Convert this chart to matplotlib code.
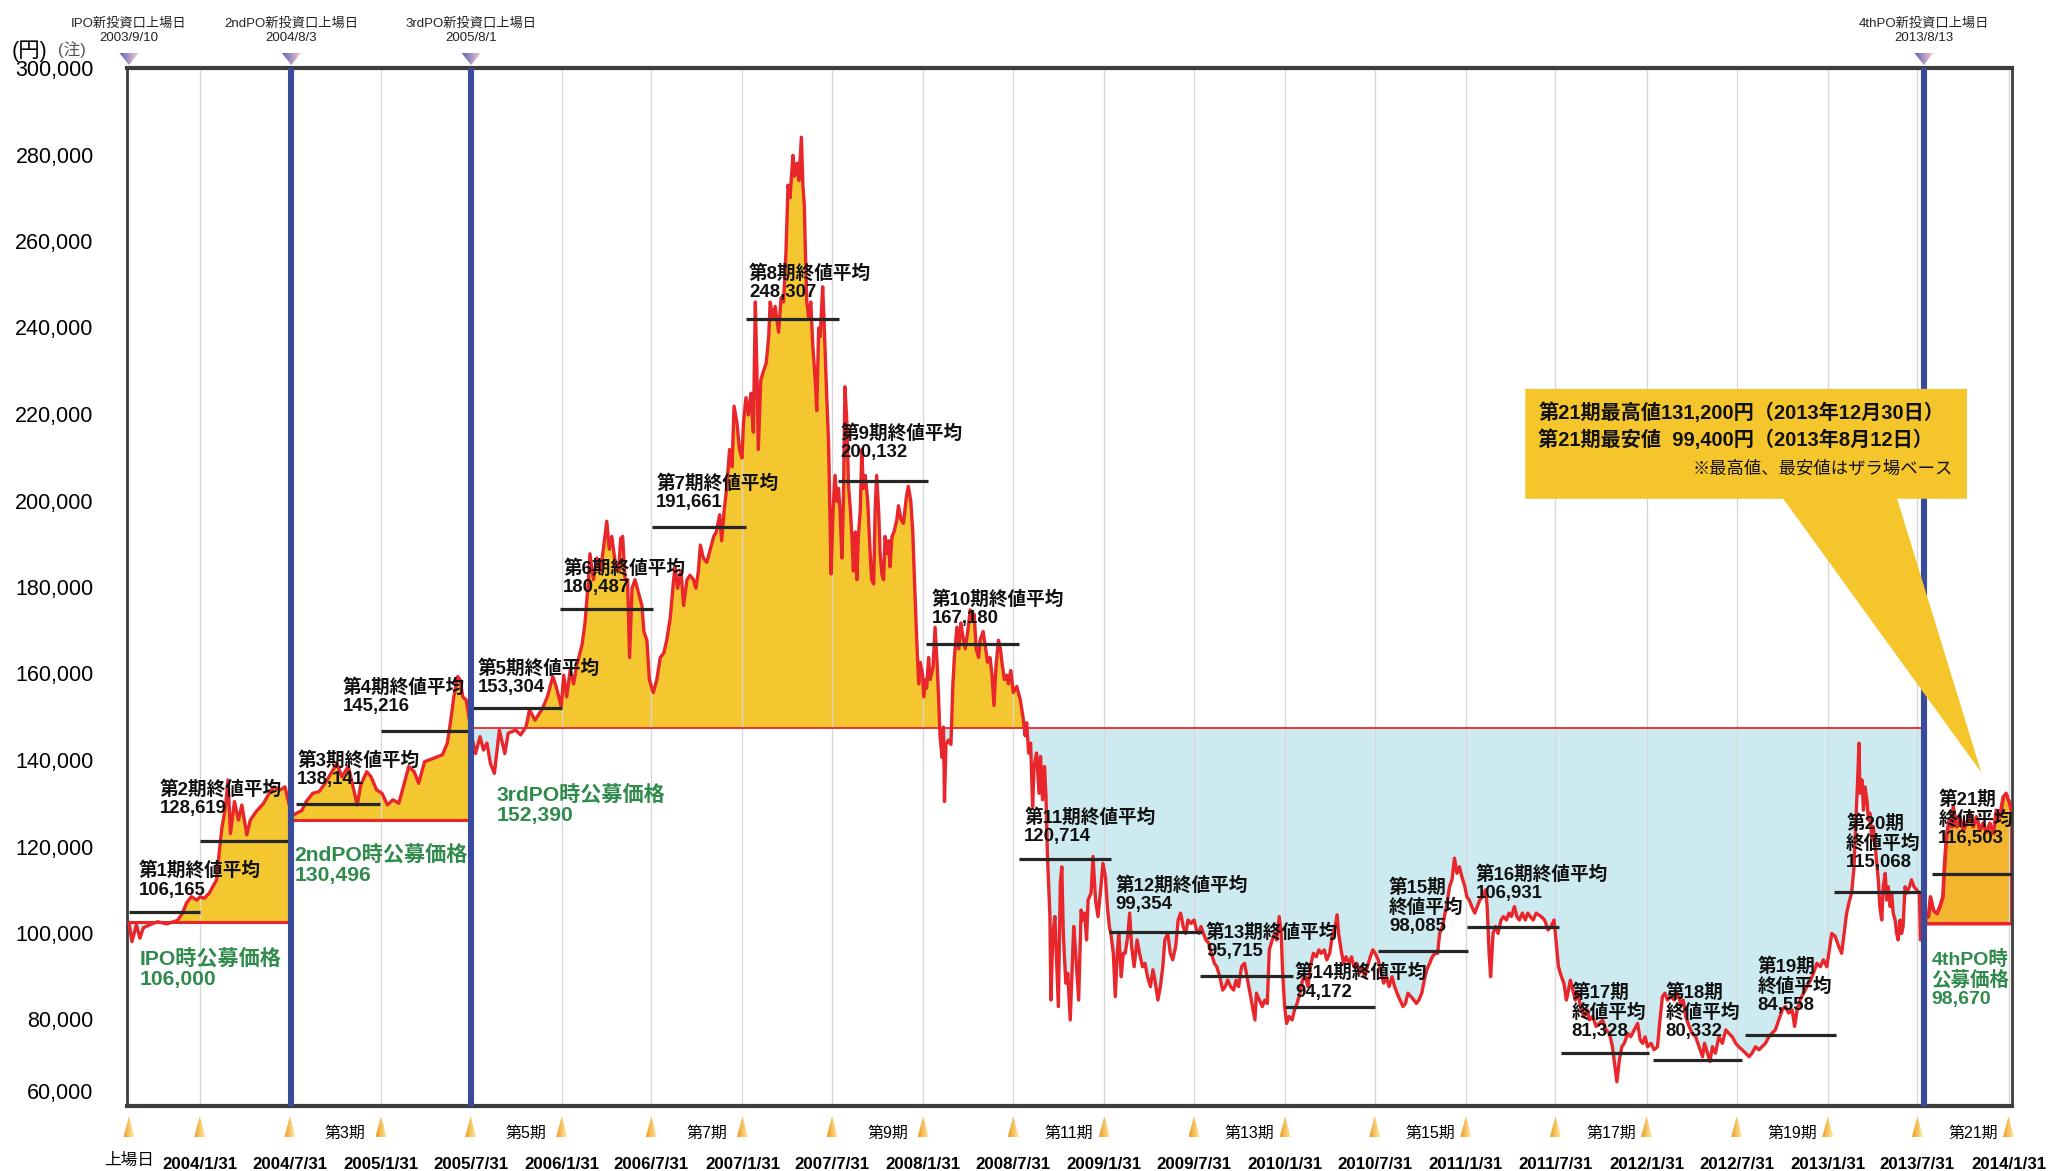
import numpy as np
import pandas as pd
import matplotlib
matplotlib.use("Agg")
import matplotlib.pyplot as plt
import matplotlib.transforms as mtransforms
from matplotlib.colors import LinearSegmentedColormap
from matplotlib.patches import Polygon

plt.rcParams['font.family'] = ['Liberation Sans', 'Noto Sans CJK JP', 'DejaVu Sans']

W, H = 2053, 1171

listing = pd.Timestamp("2003-09-10")

# offerings: name, listing date of new units, offer price (label) and the level drawn (thousand yen)
po_names = ["IPO", "2ndPO", "3rdPO", "4thPO"]
po_dates = ["2003-09-10", "2004-08-03", "2005-08-01", "2013-08-13"]
po_price = [106000, 130496, 152390, 98670]
po_line_k = [102.5, 126.1, 147.4, 102.2]

# fiscal period ends (half years)
period_ends = ["2004-01-31", "2004-07-31", "2005-01-31", "2005-07-31", "2006-01-31",
               "2006-07-31", "2007-01-31", "2007-07-31", "2008-01-31", "2008-07-31",
               "2009-01-31", "2009-07-31", "2010-01-31", "2010-07-31", "2011-01-31",
               "2011-07-31", "2012-01-31", "2012-07-31", "2013-01-31", "2013-07-31",
               "2014-01-31"]

# period closing price averages (label) and the level of the drawn bar (thousand yen)
avg_value = [106165, 128619, 138141, 145216, 153304, 180487, 191661, 248307, 200132, 167180,
             120714, 99354, 95715, 94172, 98085, 106931, 81328, 80332, 84558, 115068, 116503]
avg_line_k = [104.9, 121.3, 129.8, 146.7, 152.0, 174.9, 193.9, 241.9, 204.4, 166.8,
              117.0, 100.3, 90.1, 82.8, 95.9, 101.5, 72.3, 70.6, 76.4, 109.4, 113.6]
avg_span = [(0, 143), (143, 324), (338, 507), (509, 684), (692, 874), (871, 1059),
            (1056, 1246), (1246, 1434), (1432, 1613), (1610, 1797), (1797, 1983),
            (1979, 2168), (2164, 2350), (2334, 2517), (2522, 2705), (2702, 2889),
            (2892, 3070), (3077, 3258), (3263, 3447), (3444, 3627), (3642, 3803)]
stacked_periods = [15, 17, 18, 19, 20, 21]

# closing price: (days since listing, thousand yen), read per period
p01 = [(0, 102.4), (6, 98.0), (15, 101.9), (22, 98.8), (29, 101.2), (44, 102.0), (58, 102.6),
       (76, 102.1), (87, 102.5), (98, 102.9), (108, 104.6), (116, 106.9), (126, 108.4),
       (137, 107.6), (144, 108.4)]
p02 = [(152, 108.0), (162, 109.2), (177, 112.3), (182, 118.4), (188, 124.6), (195, 129.2),
       (200, 135.4), (205, 123.0), (213, 130.4), (221, 126.1), (228, 129.6), (238, 122.7),
       (245, 126.1), (257, 128.1), (272, 130.0), (285, 132.7), (293, 133.8), (306, 133.1),
       (315, 133.8), (322, 130.4)]
p03 = [(329, 127.0), (338, 127.7), (349, 128.3), (358, 130.4), (371, 132.3), (384, 132.7),
       (396, 134.6), (410, 137.3), (420, 139.2), (430, 136.1), (443, 138.5), (453, 133.5),
       (461, 129.6), (468, 134.2), (480, 137.3), (489, 136.1), (500, 133.1)]
p04 = [(511, 132.3), (522, 129.6), (533, 130.8), (545, 130.0), (556, 134.6), (565, 138.5),
       (576, 137.3), (585, 134.6), (597, 139.6), (615, 140.4), (633, 141.2), (643, 143.9),
       (650, 149.3), (656, 154.6), (664, 159.3), (669, 158.5), (674, 154.6), (681, 153.9),
       (686, 150.4)]
p05 = [(693, 145.0), (700, 141.5), (709, 145.4), (716, 142.3), (723, 143.9), (730, 139.2),
       (738, 136.9), (748, 146.9), (759, 141.5), (766, 146.2), (781, 146.9), (791, 145.8),
       (802, 147.7), (809, 151.6), (820, 149.2), (835, 151.9), (845, 154.6), (856, 159.3),
       (863, 156.9), (873, 152.3)]
p06 = [(878, 159.6), (884, 154.6), (891, 160.7), (898, 157.6), (904, 161.7), (915, 166.6),
       (921, 171.7), (928, 181.7), (931, 187.7), (938, 181.7), (945, 186.7), (952, 183.7),
       (958, 188.7), (965, 195.2), (970, 188.7), (975, 191.7), (982, 185.7), (989, 183.7),
       (993, 191.2), (997, 191.7), (1002, 181.7), (1007, 181.7), (1011, 163.7), (1016, 179.7),
       (1022, 181.7), (1029, 178.7), (1036, 175.7), (1040, 169.7), (1046, 167.7),
       (1051, 158.6), (1056, 156.6)]
p07 = [(1059, 155.6), (1066, 158.6), (1073, 163.7), (1080, 164.7), (1086, 167.7),
       (1093, 172.7), (1100, 181.7), (1103, 184.7), (1108, 179.7), (1115, 183.7),
       (1120, 175.7), (1127, 181.7), (1133, 182.7), (1140, 181.7), (1145, 179.7),
       (1150, 183.7), (1154, 189.7), (1160, 186.7), (1167, 185.7), (1174, 188.7),
       (1181, 191.7), (1186, 192.7), (1193, 196.7), (1197, 190.7), (1202, 197.7),
       (1207, 202.8), (1213, 211.8), (1218, 207.8), (1222, 221.8), (1228, 217.8),
       (1233, 211.8), (1238, 209.8)]
p08 = [(1241, 217.8), (1246, 223.8), (1251, 219.8), (1256, 224.8), (1261, 215.8),
       (1265, 245.9), (1268, 230.8), (1271, 211.8), (1276, 227.8), (1281, 229.8),
       (1287, 231.8), (1292, 237.9), (1295, 245.9), (1300, 241.9), (1305, 244.9),
       (1312, 238.9), (1317, 246.9), (1322, 245.9), (1327, 257.9), (1331, 272.9),
       (1335, 270.0), (1341, 279.8), (1344, 275.0), (1349, 278.0), (1353, 274.0),
       (1358, 284.0), (1361, 273.0), (1364, 268.0), (1366, 257.9), (1369, 245.9),
       (1373, 241.9), (1377, 245.9), (1381, 235.9), (1386, 227.8), (1389, 220.8),
       (1393, 239.9), (1396, 237.9), (1401, 249.4), (1404, 240.9), (1408, 227.8),
       (1413, 212.8), (1418, 183.0), (1422, 197.8)]
p09 = [(1426, 205.8), (1430, 199.8), (1433, 202.8), (1436, 197.8), (1440, 186.7),
       (1443, 200.8), (1446, 226.3), (1450, 217.8), (1453, 203.8), (1457, 197.8),
       (1460, 191.7), (1463, 183.7), (1467, 192.7), (1470, 181.7), (1473, 191.7),
       (1477, 197.8), (1480, 211.8), (1483, 202.8), (1487, 205.8), (1492, 199.8),
       (1497, 187.7), (1500, 181.7), (1504, 180.7), (1507, 197.8), (1510, 205.8),
       (1514, 197.8), (1517, 187.7), (1521, 182.7), (1524, 181.7), (1527, 191.7),
       (1531, 187.7), (1534, 190.7), (1537, 184.7), (1541, 191.7), (1545, 192.7),
       (1551, 195.7), (1554, 198.8), (1559, 195.7), (1564, 194.7), (1570, 200.8),
       (1574, 203.3), (1579, 199.8), (1583, 192.7), (1587, 179.7), (1591, 167.7),
       (1595, 157.6), (1598, 162.6), (1603, 159.6)]
p10 = [(1605, 154.6), (1608, 158.6), (1611, 156.6), (1615, 163.7), (1618, 158.6),
       (1624, 161.6), (1628, 170.7), (1632, 162.6), (1635, 154.6), (1638, 145.6),
       (1642, 140.6), (1645, 147.6), (1647, 130.4), (1650, 143.6), (1655, 144.6),
       (1660, 143.6), (1664, 157.6), (1667, 163.7), (1672, 170.7), (1676, 165.7),
       (1680, 171.7), (1684, 168.7), (1689, 165.7), (1694, 169.7), (1699, 174.7),
       (1702, 172.7), (1707, 173.7), (1711, 165.7), (1716, 163.7), (1719, 167.7),
       (1725, 169.7), (1729, 166.7), (1734, 162.6), (1739, 163.7), (1743, 159.6),
       (1747, 152.6), (1751, 161.6), (1756, 167.7), (1760, 165.7), (1763, 162.6),
       (1768, 158.6), (1773, 159.6), (1776, 157.6), (1781, 160.7), (1786, 155.6)]
p11 = [(1793, 157.0), (1800, 154.0), (1806, 149.6), (1810, 145.6), (1813, 148.6),
       (1817, 141.6), (1821, 143.9), (1825, 129.2), (1828, 138.5), (1833, 141.6),
       (1838, 132.3), (1841, 140.8), (1845, 130.8), (1849, 138.5), (1852, 131.5),
       (1855, 117.7), (1860, 103.8), (1862, 84.5), (1866, 99.9), (1870, 103.8),
       (1874, 92.2), (1877, 83.0), (1881, 111.5), (1884, 115.3), (1887, 99.9),
       (1892, 88.4), (1896, 90.7), (1901, 79.9), (1905, 92.2), (1908, 101.5),
       (1912, 95.3), (1918, 84.5), (1923, 105.3), (1926, 103.0), (1930, 104.6),
       (1934, 98.4), (1937, 107.6), (1943, 109.2), (1947, 117.7), (1952, 107.6),
       (1957, 103.8), (1963, 110.7), (1967, 116.1)]
p12 = [(1972, 113.0), (1976, 106.1), (1980, 101.5), (1983, 99.9), (1988, 95.3),
       (1992, 85.3), (1996, 95.3), (1999, 99.9), (2004, 89.9), (2008, 95.3), (2012, 95.3),
       (2017, 99.2), (2021, 104.6), (2025, 96.9), (2030, 92.2), (2036, 98.4), (2041, 95.3),
       (2047, 92.2), (2052, 93.0), (2057, 89.9), (2063, 87.6), (2068, 91.5), (2072, 89.1),
       (2078, 84.5), (2083, 87.6), (2088, 92.2), (2092, 98.4), (2098, 99.9), (2103, 95.3),
       (2108, 93.8), (2114, 96.9), (2119, 103.0), (2124, 104.6), (2129, 101.5),
       (2134, 99.9), (2139, 103.0), (2145, 102.2), (2151, 103.0)]
p13 = [(2156, 100.7), (2161, 99.9), (2165, 101.5), (2170, 99.9), (2175, 98.4), (2181, 97.6),
       (2186, 95.3), (2192, 93.0), (2197, 92.2), (2203, 89.9), (2209, 86.8), (2214, 87.6),
       (2219, 89.1), (2225, 87.6), (2231, 86.8), (2236, 89.1), (2241, 87.6), (2247, 92.2),
       (2253, 93.0), (2258, 89.9), (2263, 86.8), (2269, 83.0), (2274, 79.9), (2277, 86.1),
       (2283, 84.5), (2289, 83.0), (2294, 84.5), (2299, 83.7), (2303, 96.1), (2309, 98.4),
       (2314, 99.9), (2318, 98.4), (2323, 103.8), (2327, 99.9), (2330, 90.7)]
p14 = [(2334, 83.0), (2338, 79.1), (2343, 80.7), (2349, 79.9), (2354, 82.2), (2359, 83.7),
       (2365, 86.1), (2370, 89.1), (2376, 89.9), (2381, 87.6), (2386, 92.2), (2392, 95.3),
       (2398, 94.5), (2403, 96.1), (2408, 95.3), (2414, 96.1), (2419, 93.8), (2425, 95.3),
       (2430, 99.2), (2436, 101.5), (2440, 104.2), (2443, 99.9), (2448, 96.1), (2453, 93.0),
       (2458, 94.5), (2464, 93.0), (2469, 94.5), (2474, 92.2), (2480, 93.0), (2485, 90.7),
       (2490, 92.2), (2496, 89.9), (2501, 92.2), (2507, 94.5), (2512, 96.1)]
p15 = [(2517, 95.3), (2523, 93.8), (2529, 90.7), (2534, 88.4), (2539, 89.9), (2545, 87.6),
       (2551, 89.9), (2556, 87.6), (2561, 86.1), (2567, 84.5), (2573, 83.0), (2578, 83.7),
       (2583, 86.1), (2589, 85.3), (2595, 84.5), (2600, 83.7), (2605, 84.5), (2611, 86.1),
       (2616, 89.1), (2621, 91.5), (2627, 93.0), (2632, 94.5), (2638, 95.3), (2643, 95.3),
       (2647, 99.9), (2653, 101.5), (2658, 104.6), (2661, 106.1), (2667, 110.7),
       (2672, 112.3), (2677, 117.3), (2682, 113.8), (2687, 115.3), (2692, 113.0),
       (2698, 110.7)]
p16 = [(2702, 108.4), (2707, 107.6), (2712, 106.1), (2718, 104.6), (2723, 106.1),
       (2728, 107.6), (2734, 108.4), (2740, 110.0), (2743, 106.1), (2747, 95.3),
       (2750, 89.9), (2755, 99.9), (2760, 101.5), (2765, 99.9), (2771, 103.0),
       (2776, 103.8), (2782, 103.0), (2787, 104.6), (2792, 103.8), (2798, 106.1),
       (2803, 103.8), (2808, 103.0), (2814, 104.6), (2820, 103.0), (2825, 104.6),
       (2830, 103.8), (2836, 103.0), (2842, 104.6), (2852, 103.8), (2859, 103.0),
       (2866, 100.7), (2872, 101.5), (2878, 103.0)]
p17 = [(2882, 98.4), (2887, 92.2), (2893, 89.9), (2898, 88.4), (2903, 84.5), (2906, 86.1),
       (2911, 89.1), (2916, 86.8), (2921, 84.5), (2926, 86.1), (2933, 82.2), (2939, 80.7),
       (2945, 82.2), (2950, 79.9), (2956, 80.7), (2963, 78.4), (2970, 79.1), (2976, 79.9),
       (2983, 77.6), (2990, 76.8), (2996, 73.7), (3001, 69.1), (3005, 65.6), (3010, 70.6),
       (3015, 73.7), (3020, 74.5), (3027, 76.8), (3033, 76.0), (3040, 77.6), (3047, 79.1),
       (3052, 75.3), (3057, 74.5), (3062, 76.0)]
p18 = [(3067, 73.7), (3074, 74.5), (3080, 73.0), (3087, 73.7), (3092, 79.9), (3097, 85.3),
       (3102, 86.1), (3107, 84.5), (3114, 85.3), (3121, 84.5), (3127, 86.1), (3134, 83.7),
       (3139, 84.5), (3144, 80.7), (3151, 78.4), (3157, 76.8), (3164, 76.0), (3171, 73.7),
       (3178, 71.4), (3182, 74.5), (3188, 72.2), (3193, 70.3), (3198, 73.7), (3204, 72.2),
       (3211, 76.0), (3218, 74.5), (3225, 77.6), (3231, 76.8), (3238, 76.0), (3245, 74.5)]
p19 = [(3251, 73.7), (3258, 73.0), (3265, 72.2), (3272, 71.4), (3278, 72.2), (3285, 73.7),
       (3292, 73.0), (3298, 73.7), (3305, 74.5), (3312, 76.0), (3318, 76.8), (3325, 77.6),
       (3332, 79.9), (3339, 82.2), (3345, 83.0), (3352, 81.5), (3359, 82.2), (3364, 78.4),
       (3369, 82.2), (3375, 84.5), (3382, 86.1), (3389, 87.6), (3396, 89.1), (3402, 90.7),
       (3409, 93.0), (3416, 92.2), (3422, 93.8), (3429, 92.2)]
p20 = [(3436, 97.6), (3439, 99.9), (3446, 99.2), (3453, 96.9), (3459, 95.3), (3464, 99.9),
       (3469, 104.6), (3475, 107.6), (3479, 109.2), (3484, 115.3), (3488, 126.9),
       (3491, 134.6), (3494, 143.9), (3496, 132.3), (3500, 135.4), (3503, 128.4),
       (3506, 133.8), (3510, 130.8), (3513, 126.1), (3516, 127.7), (3520, 121.5),
       (3523, 124.6), (3528, 118.4), (3533, 112.3), (3536, 106.1), (3540, 103.0),
       (3543, 110.7), (3547, 113.8), (3550, 107.6), (3553, 110.7), (3557, 106.1),
       (3560, 109.2), (3563, 104.6), (3567, 103.0), (3570, 99.9), (3573, 98.4),
       (3577, 103.0), (3580, 99.9), (3583, 101.5), (3587, 110.7), (3590, 109.2),
       (3596, 110.7), (3600, 112.3), (3605, 110.7), (3610, 110.0), (3616, 109.2),
       (3618, 98.4), (3624, 99.5)]
p21 = [(3628, 103.8), (3634, 103.8), (3638, 108.4), (3644, 105.3), (3651, 104.5),
       (3657, 106.1), (3663, 108.4), (3667, 116.9), (3671, 123.0), (3676, 126.1),
       (3681, 124.6), (3684, 129.2), (3691, 124.6), (3697, 126.9), (3704, 123.8),
       (3711, 125.4), (3718, 127.7), (3724, 124.6), (3731, 126.9), (3738, 123.8),
       (3744, 125.4), (3751, 123.4), (3758, 125.4), (3765, 123.0), (3771, 128.4),
       (3778, 126.9), (3785, 131.5), (3791, 132.3), (3798, 130.0), (3801, 128.4)]

# callout text
callout_lines = ["第21期最高値131,200円（2013年12月30日）",
                 "第21期最安値  99,400円（2013年8月12日）",
                 "※最高値、最安値はザラ場ベース"]

# ---- layout (data coords: days since listing, thousand yen) ----
avg_label_pos = [(20, 116.5), (62, 135.3), (340, 142.0), (432, 158.9), (705, 163.4),
                 (877, 186.5), (1065, 206.1), (1252, 254.6), (1437, 217.6), (1622, 179.2),
                 (1808, 128.9), (1993, 113.2), (2175, 102.3), (2355, 92.9), (2545, 112.6),
                 (2720, 115.6), (2913, 88.4), (3103, 88.4), (3289, 94.4), (3468, 127.4),
                 (3654, 132.9)]
po_label_pos = [(22, 96.5), (334, 120.5), (742, 134.4), (3640, 96.0)]
callout_shape = [(2820, 225.8), (3712, 225.8), (3712, 200.4), (3571, 200.4), (3741, 137.1),
                 (3341, 200.4), (2820, 200.4)]
callout_text_pos = [(2846, 220.4), (2846, 214.0), (3684, 207.4)]

red = '#e8262b'
yellow = '#f4c62f'
orange = '#f3b52e'
lightblue = '#cdeaf0'
green = '#2f8a4c'
navy = '#3a4b9c'
frame = '#3d3d3d'

price = p01 + p02 + p03 + p04 + p05 + p06 + p07 + p08 + p09 + p10 + p11 + \
    p12 + p13 + p14 + p15 + p16 + p17 + p18 + p19 + p20 + p21
day = np.array([p[0] for p in price], dtype=float)
val = np.array([p[1] for p in price])

po_ts = pd.to_datetime(po_dates)
po_days = [(t - listing).days for t in po_ts]
end_ts = pd.to_datetime(period_ends)
end_days = [(t - listing).days for t in end_ts]

fig = plt.figure(figsize=(W / 100, H / 100), dpi=100)
ax = fig.add_axes([127 / W, 1 - 1106 / H, (2012 - 127) / W, (1106 - 68) / H])
ax.set_xlim(-4, 3803)
ax.set_ylim(60, 300)

# fills and offer price lines
seg_ends = po_days[1:] + [day[-1] + 1]
for i in range(4):
    lo, hi = po_days[i], seg_ends[i]
    m = (day >= lo) & (day < hi)
    x, y = day[m], val[m]
    base = po_line_k[i]
    if i < 3:
        ax.fill_between(x, y, base, where=y >= base, interpolate=True, color=yellow, lw=0, zorder=1)
        ax.fill_between(x, y, base, where=y < base, interpolate=True, color=lightblue, lw=0, zorder=1)
        ax.plot([lo, hi], [base, base], color=red, lw=2.2 if i < 2 else 1.3, zorder=2)
    else:
        ax.fill_between(x, y, base, facecolor=orange, edgecolor=red, lw=2.2, zorder=1)
        ax.plot([lo, x[-1]], [base, base], color=red, lw=2.2, zorder=2)

# half-year gridlines
ax.vlines(end_days, 60, 300, color='#d6d6d6', lw=0.9, zorder=1.5)

ax.plot(day, val, color=red, lw=2.4, zorder=3)

for (a, b), lv in zip(avg_span, avg_line_k):
    ax.plot([a, b], [lv, lv], color='#262626', lw=2.3, zorder=4, solid_capstyle='butt')

for d in po_days[1:]:
    ax.axvline(d, color=navy, lw=4.4, zorder=5)

# average labels
for i, (pos, v) in enumerate(zip(avg_label_pos, avg_value)):
    n = i + 1
    if n in stacked_periods:
        txt = f"第{n}期\n終値平均\n{v:,}"
    else:
        txt = f"第{n}期終値平均\n{v:,}"
    ax.text(pos[0], pos[1], txt, ha='left', va='top', fontsize=13.4, fontweight='bold',
            linespacing=1.1, color='#111111', zorder=6)

# offer price labels
for i, (pos, pr) in enumerate(zip(po_label_pos, po_price)):
    if i < 3:
        txt = f"{po_names[i]}時公募価格\n{pr:,}"
        fs = 15.2
    else:
        txt = f"{po_names[i]}時\n公募価格\n{pr:,}"
        fs = 14
    ax.text(pos[0], pos[1], txt, ha='left', va='top', fontsize=fs, fontweight='bold',
            color=green, linespacing=1.1, zorder=6)

# callout
ax.add_patch(Polygon(callout_shape, closed=True, facecolor='#f5c52c', edgecolor='none', zorder=7))
for j, (line, pos) in enumerate(zip(callout_lines, callout_text_pos)):
    if j < 2:
        ax.text(pos[0], pos[1], line, ha='left', va='center', fontsize=14.5,
                fontweight='bold', color='#111111', zorder=8)
    else:
        ax.text(pos[0], pos[1], line, ha='right', va='center', fontsize=12.5,
                color='#111111', zorder=8)

# axes styling
ax.set_xticks([])
ax.set_yticks(np.arange(80, 301, 20))
ax.set_yticklabels([f"{int(t * 1000):,}" for t in np.arange(80, 301, 20)])
ax.tick_params(axis='y', length=0, pad=24, labelsize=15.5)
for s in ['top', 'bottom']:
    ax.spines[s].set_linewidth(3.0)
    ax.spines[s].set_color(frame)
for s in ['left', 'right']:
    ax.spines[s].set_linewidth(2.0)
    ax.spines[s].set_color(frame)

ylab_tr = mtransforms.blended_transform_factory(ax.transAxes, ax.transData)
ax.text(-0.018, 63.0, "60,000", transform=ylab_tr, ha='right', va='center', fontsize=15.5)

fig.text(12 / W, 1 - 51 / H, "(円)", ha='left', va='center', fontsize=15.5)
fig.text(58 / W, 1 - 50 / H, "(注)", ha='left', va='center', fontsize=12, color='#555555')

xb = mtransforms.blended_transform_factory(ax.transData, ax.transAxes)

# top annotations for new unit listing dates
for name, t, d in zip(po_names, po_ts, po_days):
    ax.text(d, 1.0424, f"{name}新投資口上場日", transform=xb, ha='center', va='center',
            fontsize=9.5, color='#222222', clip_on=False)
    ax.text(d, 1.0289, f"{t.year}/{t.month}/{t.day}", transform=xb, ha='center', va='center',
            fontsize=9.5, color='#222222', clip_on=False)

# bottom date labels
tick_days = [0] + end_days
ax.text(0, -0.052, "上場日", transform=xb, ha='center', va='center', fontsize=12,
        family=['Noto Sans CJK JP'], clip_on=False)
for t, d in zip(end_ts, end_days):
    ax.text(d, -0.0559, f"{t.year}/{t.month}/{t.day}", transform=xb, ha='center', va='center',
            fontsize=12.2, fontweight='bold', clip_on=False)

# odd period names between the ticks
bounds = [0] + end_days
for n in range(3, 22, 2):
    mid = (bounds[n - 1] + bounds[n]) / 2 + 20
    ax.text(mid, -0.026, f"第{n}期", transform=xb, ha='center', va='center', fontsize=11.5,
            clip_on=False)

# gradient triangles on an overlay in pixel space
ov = fig.add_axes([0, 0, 1, 1], zorder=10)
ov.set_xlim(0, W)
ov.set_ylim(0, H)
ov.set_autoscale_on(False)
ov.axis('off')
ov.patch.set_alpha(0)

po_cmap = LinearSegmentedColormap.from_list('po', ['#5a62b6', '#f6c9d5'])
tk_cmap = LinearSegmentedColormap.from_list('tk', ['#ef9a1a', '#fdeaa8'])


def grad_triangle(cx, y_tip, y_base, half_w, cmap):
    x0, x1 = cx - half_w, cx + half_w
    tri = Polygon([(x0, y_base), (x1, y_base), (cx, y_tip)], closed=True,
                  facecolor='none', edgecolor='none', transform=ov.transData)
    ov.add_patch(tri)
    grad = np.linspace(0, 1, 64).reshape(1, -1)
    im = ov.imshow(grad, cmap=cmap, extent=[x0, x1, min(y_tip, y_base), max(y_tip, y_base)],
                   aspect='auto', origin='lower', interpolation='bilinear', zorder=11)
    im.set_clip_path(tri)


ax_top = ax.bbox.y1
ax_bot = ax.bbox.y0
for d in po_days:
    cx = ax.transData.transform((d, 100))[0]
    grad_triangle(cx, ax_top + 3, ax_top + 15, 9.5, po_cmap)
for d in tick_days:
    cx = ax.transData.transform((d, 100))[0]
    grad_triangle(cx, ax_bot - 10, ax_bot - 31, 5.5, tk_cmap)

fig.savefig("out.png", dpi=100)
